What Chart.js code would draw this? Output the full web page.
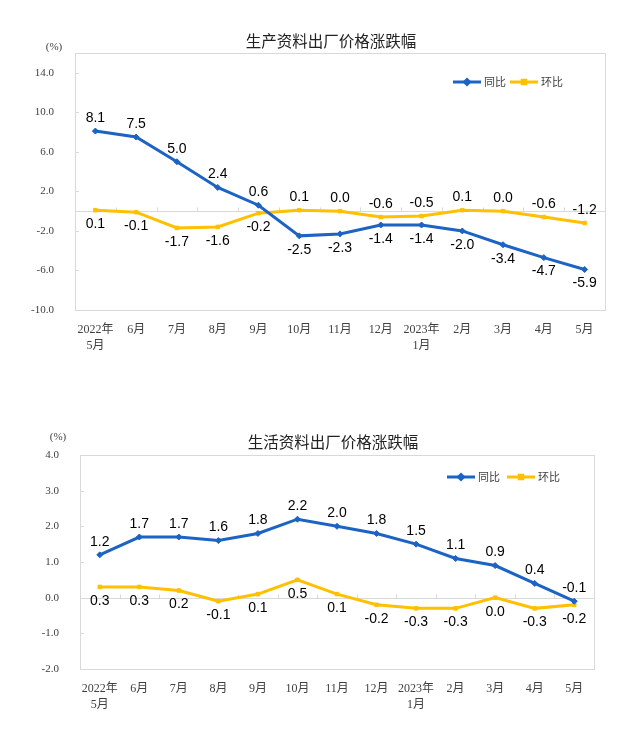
<!DOCTYPE html>
<html>
<head>
<meta charset="utf-8">
<script src="https://cdn.jsdelivr.net/npm/chart.js@4/dist/chart.umd.min.js"></script>
<style>
  body { margin: 0; background: #fff; width: 640px; height: 735px; overflow: hidden; }
  canvas { position: absolute; left: 0; }
  #prodChart { top: 0; }
  #lifeChart { top: 365px; }
</style>
</head>
<body>
<canvas id="prodChart" width="640" height="365"></canvas>
<canvas id="lifeChart" width="640" height="370"></canvas>
<script>
// months on the x axis
const months = [['2022年', '5月'], '6月', '7月', '8月', '9月', '10月', '11月', '12月', ['2023年', '1月'], '2月', '3月', '4月', '5月'];

// 生产资料
const prodYoY = [8.1, 7.5, 5.0, 2.4, 0.6, -2.5, -2.3, -1.4, -1.4, -2.0, -3.4, -4.7, -5.9];
const prodMoM = [0.1, -0.1, -1.7, -1.6, -0.2, 0.1, 0.0, -0.6, -0.5, 0.1, 0.0, -0.6, -1.2];
const prodTicks = [14, 10, 6, 2, -2, -6, -10];

// 生活资料
const lifeYoY = [1.2, 1.7, 1.7, 1.6, 1.8, 2.2, 2.0, 1.8, 1.5, 1.1, 0.9, 0.4, -0.1];
const lifeMoM = [0.3, 0.3, 0.2, -0.1, 0.1, 0.5, 0.1, -0.2, -0.3, -0.3, 0.0, -0.3, -0.2];
const lifeTicks = [4, 3, 2, 1, 0, -1, -2];

const BLUE = '#1C63C4';
const YELLOW = '#FFC000';
const GRAY = '#d9d9d9';
const SERIF = "'Liberation Serif', 'Noto Sans CJK SC', serif";
const CJK = "'Noto Sans CJK SC', sans-serif";

// which side of the point each value label sits: 'u' above, 'd' below
const prodYoYSide = ['u', 'u', 'u', 'u', 'u', 'd', 'd', 'd', 'd', 'd', 'd', 'd', 'd'];
const prodMoMSide = ['d', 'd', 'd', 'd', 'd', 'u', 'u', 'u', 'u', 'u', 'u', 'u', 'u'];
const lifeYoYSide = months.map(() => 'u');
const lifeMoMSide = months.map(() => 'd');

const framePlugin = {
    id: 'frame',
    beforeDatasetsDraw(chart, args, opts) {
        const { ctx, chartArea: a, scales: { x, y } } = chart;
        ctx.save();
        ctx.strokeStyle = GRAY;
        ctx.lineWidth = 1;
        ctx.strokeRect(Math.round(a.left) + 0.5, Math.round(a.top) + 0.5, Math.round(a.width), Math.round(a.height));
        // zero line with small category ticks
        const y0 = Math.round(y.getPixelForValue(0)) + 0.5;
        ctx.beginPath();
        ctx.moveTo(a.left, y0);
        ctx.lineTo(a.right, y0);
        const step = a.width / months.length;
        for (let i = 1; i < months.length; i++) {
            const px = Math.round(a.left + step * i) + 0.5;
            ctx.moveTo(px, y0);
            ctx.lineTo(px, y0 - 4);
        }
        // y tick marks
        opts.ticks.forEach(v => {
            const py = Math.round(y.getPixelForValue(v)) + 0.5;
            ctx.moveTo(a.left, py);
            ctx.lineTo(a.left + 4, py);
        });
        ctx.stroke();
        ctx.restore();
    },
    afterDraw(chart, args, opts) {
        const { ctx } = chart;
        ctx.save();
        ctx.fillStyle = '#222';
        ctx.font = '15.5px ' + CJK;
        ctx.textAlign = 'center';
        ctx.textBaseline = 'middle';
        ctx.fillText(opts.title, opts.titleX, opts.titleY);
        ctx.fillStyle = '#404040';
        ctx.font = '11px ' + SERIF;
        ctx.fillText('(%)', opts.unitX, opts.unitY);
        // legend
        const items = [['同比', BLUE, 'rectRot'], ['环比', YELLOW, 'rect']];
        items.forEach((it, i) => {
            const x0 = opts.legend[i];
            const ly = opts.legendY;
            ctx.strokeStyle = it[1];
            ctx.lineWidth = 3;
            ctx.beginPath();
            ctx.moveTo(x0, ly);
            ctx.lineTo(x0 + 28, ly);
            ctx.stroke();
            Chart.helpers.drawPoint(ctx, { pointStyle: it[2], radius: 2.5, borderWidth: 1 }, x0 + 14, ly);
            ctx.fillStyle = it[1];
            ctx.fill();
            ctx.fillStyle = '#404040';
            ctx.font = '11px ' + CJK;
            ctx.textAlign = 'left';
            ctx.fillText(it[0], x0 + 31, ly);
        });
        ctx.restore();
    }
};

const valueLabelPlugin = {
    id: 'valueLabels',
    afterDatasetsDraw(chart) {
        const { ctx } = chart;
        ctx.save();
        ctx.font = '14px "Liberation Sans", Arial, sans-serif';
        ctx.fillStyle = '#000';
        ctx.textAlign = 'center';
        ctx.textBaseline = 'middle';
        chart.data.datasets.forEach((ds, di) => {
            const meta = chart.getDatasetMeta(di);
            meta.data.forEach((pt, i) => {
                const dy = ds.labelSide[i] === 'u' ? -13 : 14;
                ctx.fillText(ds.data[i].toFixed(1), pt.x, pt.y + dy);
            });
        });
        ctx.restore();
    }
};

function makeChart(id, yoy, mom, yoySide, momSide, ticks, min, max, dims, frame) {
    return new Chart(document.getElementById(id), {
        type: 'line',
        data: {
            labels: months,
            datasets: [{
                label: '同比',
                data: yoy,
                labelSide: yoySide,
                borderColor: BLUE,
                backgroundColor: BLUE,
                borderWidth: 3,
                tension: 0,
                pointStyle: 'rectRot',
                pointRadius: 3,
                pointBorderWidth: 1
            }, {
                label: '环比',
                data: mom,
                labelSide: momSide,
                borderColor: YELLOW,
                backgroundColor: YELLOW,
                borderWidth: 3,
                tension: 0,
                pointStyle: 'rect',
                pointRadius: 2.5,
                pointBorderWidth: 1
            }]
        },
        options: {
            responsive: false,
            animation: false,
            layout: { padding: { top: dims.top, right: dims.right, bottom: dims.bottom, left: 0 } },
            scales: {
                x: {
                    offset: true,
                    grid: { display: false },
                    border: { display: false },
                    afterFit: s => { s.height = dims.xh; },
                    ticks: {
                        autoSkip: false,
                        maxRotation: 0,
                        padding: 3,
                        color: '#404040',
                        font: { family: SERIF, size: 12, lineHeight: 1.4 }
                    }
                },
                y: {
                    min: min,
                    max: max,
                    grid: { display: false },
                    border: { display: false },
                    afterFit: s => { s.width = dims.yw; },
                    afterBuildTicks: s => { s.ticks = ticks.map(v => ({ value: v })); },
                    ticks: {
                        padding: 13,
                        color: '#404040',
                        font: { family: SERIF, size: 11 },
                        callback: v => Number(v).toFixed(1)
                    }
                }
            },
            plugins: {
                legend: { display: false },
                tooltip: { enabled: false },
                frame: frame
            }
        },
        plugins: [framePlugin, valueLabelPlugin]
    });
}

makeChart('prodChart', prodYoY, prodMoM, prodYoYSide, prodMoMSide, prodTicks, -10, 16,
    { top: 53, right: 35, bottom: 10, xh: 45, yw: 75 },
    { title: '生产资料出厂价格涨跌幅', titleX: 331, titleY: 41, unitX: 54, unitY: 47, legend: [453, 510], legendY: 82, ticks: prodTicks });

makeChart('lifeChart', lifeYoY, lifeMoM, lifeYoYSide, lifeMoMSide, lifeTicks, -2, 4,
    { top: 90, right: 46, bottom: 16, xh: 50, yw: 80 },
    { title: '生活资料出厂价格涨跌幅', titleX: 333, titleY: 77, unitX: 58, unitY: 72, legend: [447, 507], legendY: 112, ticks: lifeTicks });
</script>
</body>
</html>
